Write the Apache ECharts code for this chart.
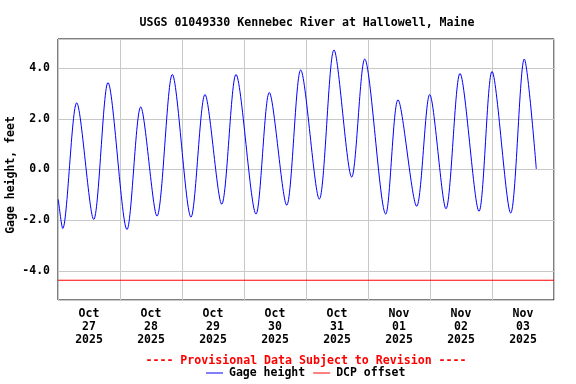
<!DOCTYPE html>
<html>
<head>
<meta charset="utf-8">
<script src="https://cdn.jsdelivr.net/npm/echarts@6/dist/echarts.min.js"></script>
<style>html,body{margin:0;padding:0;background:#fff}#c{width:576px;height:384px}</style>
</head>
<body>
<div id="c"></div>
<script>
// Hours since 2025-10-27 00:00 and gage height (feet) at the start, each high/low tide and the end
var hours = [0.12, 1.82, 7.24, 13.82, 19.35, 26.71, 32.01, 38.32, 44.25, 51.48, 56.90, 63.37, 68.90,
  76.65, 81.79, 88.53, 93.95, 101.15, 106.84, 113.69, 118.72, 126.85, 131.61, 138.85, 143.88,
  150.19, 155.61, 162.97, 168.00, 175.24, 180.50, 185.15];
var gageHeight = [-1.18, -2.33, 2.63, -1.97, 3.43, -2.37, 2.47, -1.84, 3.75, -1.88, 2.96, -1.37, 3.75,
  -1.76, 3.04, -1.41, 3.93, -1.17, 4.72, -0.30, 4.36, -1.76, 2.75, -1.45, 2.96,
  -1.55, 3.79, -1.65, 3.87, -1.72, 4.36, 0.02];
var dcpOffset = -4.37;
var dayLabels = ['Oct\n27\n2025', 'Oct\n28\n2025', 'Oct\n29\n2025', 'Oct\n30\n2025',
  'Oct\n31\n2025', 'Nov\n01\n2025', 'Nov\n02\n2025', 'Nov\n03\n2025'];
var yTicks = [-4, -2, 0, 2, 4];

var FONT = 'DejaVu Sans Mono';
var gageData = hours.map(function (h, i) { return [h, gageHeight[i]]; });
var chart = echarts.init(document.getElementById('c'), null, { renderer: 'canvas' });
chart.setOption({
  animation: false,
  backgroundColor: '#ffffff',
  title: [{
    text: 'USGS 01049330 Kennebec River at Hallowell, Maine',
    left: 302, top: 12, textAlign: 'center',
    textStyle: { fontFamily: FONT, fontWeight: 'bold', fontSize: 11.6, color: '#000' }
  }, {
    text: '---- Provisional Data Subject to Revision ----',
    left: 301, top: 350, textAlign: 'center',
    textStyle: { fontFamily: FONT, fontWeight: 'bold', fontSize: 11.6, color: '#ff0000' }
  }],
  legend: {
    left: 206, top: 367, padding: 0, itemWidth: 17, itemHeight: 1, itemGap: 8,
    icon: 'rect',
    textStyle: { fontFamily: FONT, fontWeight: 'bold', fontSize: 11.5, color: '#000', padding: [0, 0, 0, 1] },
    data: [{ name: 'Gage height', itemStyle: { color: '#0000ff' } },
           { name: 'DCP offset', itemStyle: { color: '#ff0000' } }]
  },
  grid: { left: 58, top: 39, width: 496, height: 261, show: true, borderColor: '#000', borderWidth: 1,
          containLabel: false, outerBoundsMode: 'none' },
  xAxis: [{
    type: 'value', min: 0, max: 192, interval: 24,
    axisLine: { show: false }, axisTick: { show: false }, axisLabel: { show: false },
    splitLine: { show: true, lineStyle: { color: '#c8c8c8', width: 1 } }
  }, {
    type: 'value', min: 0, max: 192, interval: 12, position: 'bottom',
    axisLine: { show: false }, axisTick: { show: false }, splitLine: { show: false },
    axisLabel: {
      margin: 8, lineHeight: 13, fontFamily: FONT, fontWeight: 'bold', fontSize: 11.5, color: '#000',
      formatter: function (v) {
        if (Math.round(v) % 24 === 12) return dayLabels[Math.floor(v / 24)] || '';
        return '';
      }
    }
  }],
  yAxis: {
    type: 'value', min: -5.15, max: 5.15, splitNumber: 5,
    name: 'Gage height, feet', nameLocation: 'middle', nameGap: 41, nameMoveOverlap: false,
    nameTextStyle: { fontFamily: FONT, fontWeight: 'bold', fontSize: 11.5, color: '#000', padding: [0, 0, 0, -11] },
    axisLine: { show: false }, axisTick: { show: false },
    axisLabel: {
      margin: 8, fontFamily: FONT, fontWeight: 'bold', fontSize: 11.5, color: '#000',
      showMinLabel: false, showMaxLabel: false,
      formatter: function (v) {
        for (var i = 0; i < yTicks.length; i++) if (Math.abs(v - yTicks[i]) < 1e-6) return yTicks[i].toFixed(1);
        return '';
      }
    },
    splitLine: { show: true, lineStyle: { color: '#c8c8c8', width: 1 } }
  },
  series: [{
    name: 'Gage height', type: 'line', xAxisIndex: 0, data: gageData,
    showSymbol: false, smooth: 0.3,
    lineStyle: { color: '#0000ff', width: 1 }, itemStyle: { color: '#0000ff' }
  }, {
    name: 'DCP offset', type: 'line', xAxisIndex: 0, data: [[0, dcpOffset], [192, dcpOffset]],
    showSymbol: false, lineStyle: { color: '#ff0000', width: 1 }, itemStyle: { color: '#ff0000' }
  }]
});
</script>
</body>
</html>
